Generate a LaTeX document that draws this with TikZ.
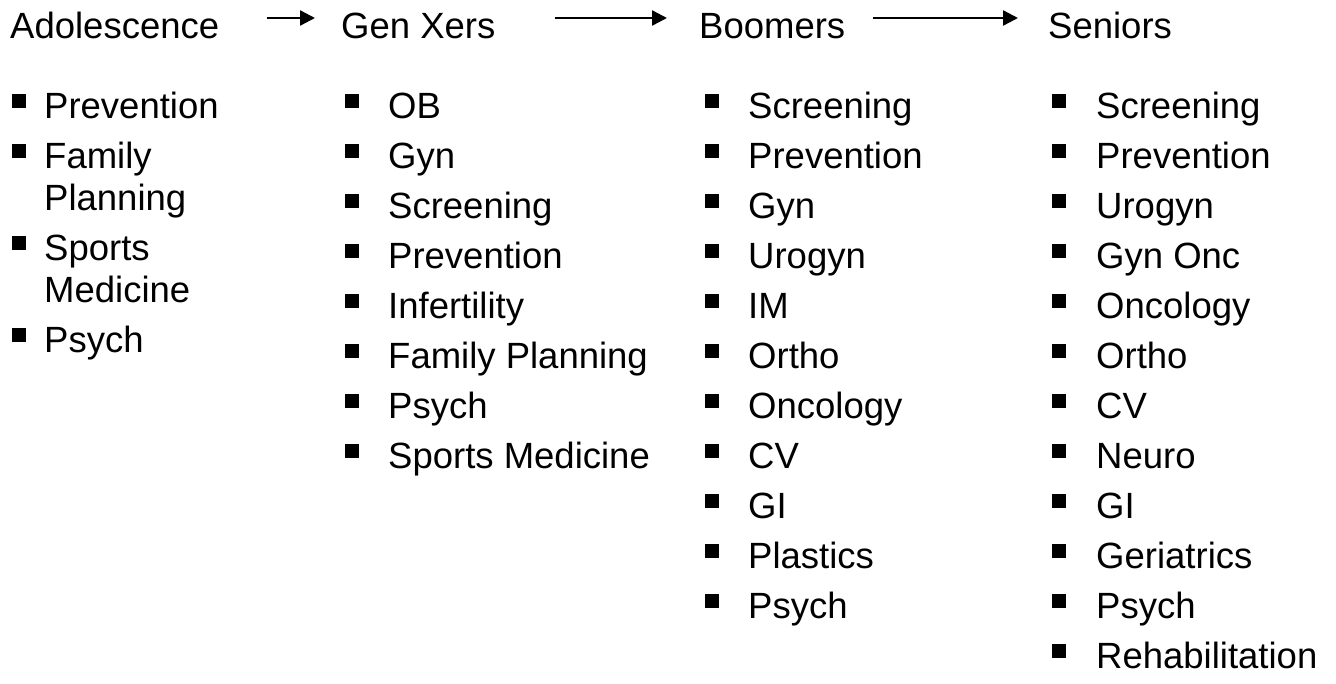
\documentclass[tikz,border=0pt]{standalone}
\usepackage{fontspec}
\setmainfont{Liberation Sans}
\usetikzlibrary{arrows.meta}

\tikzset{
  hdr/.style={anchor=base west, inner sep=0pt, font=\fontsize{36.5}{42}\selectfont},
  item/.style={anchor=base west, inner sep=0pt, font=\fontsize{36.5}{42}\selectfont},
  bul/.style={fill=black, draw=none, inner sep=0pt, minimum size=13.5pt},
  flow/.style={line width=2.4pt, -{Triangle[length=15pt, width=15pt]}}
}

\begin{document}
\begin{tikzpicture}[x=1pt, y=-1pt]
\useasboundingbox (0,0) rectangle (1336,683);

% column headings
\node[hdr] (adol) at (10,38)   {Adolescence};
\node[hdr] (genx) at (341,38)  {Gen Xers};
\node[hdr] (boom) at (699,38)  {Boomers};
\node[hdr] (sen)  at (1048,38) {Seniors};

% arrows between headings
\coordinate (a1s) at (267,18); \coordinate (a1e) at (315,18);
\coordinate (a2s) at (555,18); \coordinate (a2e) at (667,18);
\coordinate (a3s) at (873,18); \coordinate (a3e) at (1018,18);
\draw[flow] (a1s) -- (a1e);
\draw[flow] (a2s) -- (a2e);
\draw[flow] (a3s) -- (a3e);

% Adolescence
\node[item] (a1)  at (44,118) {Prevention};
\node[item] (a2)  at (44,168) {Family};
\node[item] (a2b) at (44,210) {Planning};
\node[item] (a3)  at (44,260) {Sports};
\node[item] (a3b) at (44,302) {Medicine};
\node[item] (a4)  at (44,352) {Psych};
\foreach \b [count=\i] in {118,168,260,352} \node[bul] (ab\i) at (19,\b-17) {};

% Gen Xers
\foreach \t [count=\i] in {OB,Gyn,Screening,Prevention,Infertility,Family Planning,Psych,Sports Medicine} {
  \node[item] (g\i) at (388,{118+50*(\i-1)}) {\t};
  \node[bul] (gb\i) at (352,{118+50*(\i-1)-17}) {};
}

% Boomers
\foreach \t [count=\i] in {Screening,Prevention,Gyn,Urogyn,IM,Ortho,Oncology,CV,GI,Plastics,Psych} {
  \node[item] (b\i) at (748,{118+50*(\i-1)}) {\t};
  \node[bul] (bb\i) at (712,{118+50*(\i-1)-17}) {};
}

% Seniors
\foreach \t [count=\i] in {Screening,Prevention,Urogyn,Gyn Onc,Oncology,Ortho,CV,Neuro,GI,Geriatrics,Psych,Rehabilitation} {
  \node[item] (s\i) at (1096,{118+50*(\i-1)}) {\t};
  \node[bul] (sb\i) at (1059,{118+50*(\i-1)-17}) {};
}
\end{tikzpicture}
\end{document}
